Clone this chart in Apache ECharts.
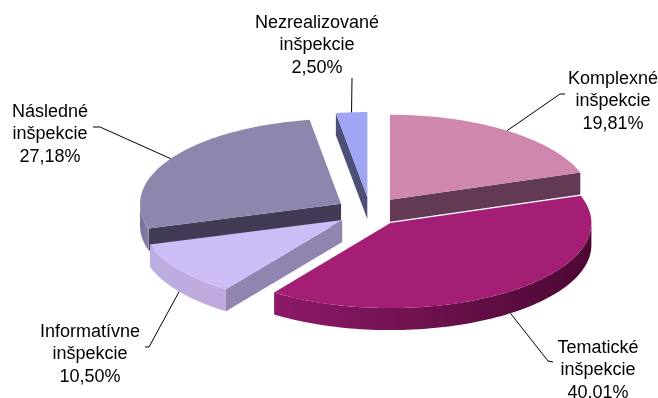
<!DOCTYPE html>
<html><head><meta charset="utf-8">
<style>html,body{margin:0;padding:0;background:#fff}#c{width:658px;height:398px}</style>
<script src="https://cdn.jsdelivr.net/npm/echarts@6/dist/echarts.min.js"></script>
</head><body><div id="c"></div>
<script>
// Data, clockwise from 12 o'clock
const categories = ['Komplexné', 'Tematické', 'Informatívne', 'Následné', 'Nezrealizované'];
const values = [19.81, 40.01, 10.50, 27.18, 2.50];
const percentLabels = ['19,81%', '40.01%', '10,50%', '27,18%', '2,50%'];
const secondLine = 'inšpekcie';
const topColors = ['#d087ae', '#a51e76', '#cdbdf7', '#8f86ae', '#a0a6f5'];
const radialWallColors = ['#623a53', '#5a0f40', '#9184ae', '#433a55', '#4c5079'];
const outerWallLeft = ['#8e5a78', '#8e1a68', '#bdaee2', '#786f98', '#4c5079'];
const outerWallRight = ['#623a53', '#4b0832', '#c0a9dc', '#8a80a6', '#4c5079'];
// Layout
const cx = 370, cy = 211.5, ra = 201, rb = 85, depth = 22, explode = 0.17;
const drawOrder = [4, 0, 3, 1, 2];
const labelCenters = [[613, 79], [598, 348], [90, 332], [50, 112], [317, 23]];
const leaderElbows = [[[565, 94], [560, 94]], [[553, 362], [548, 361]], [[145, 347], [149, 347]], [[93, 127], [100, 127]], [[352, 78]]];
const lineGap = 22.3;

const total = values.reduce((a, b) => a + b, 0);
const rad = d => d * Math.PI / 180;
function arc(c, t1, t2, dy) {
  const pts = [], n = Math.max(2, Math.ceil(Math.abs(t2 - t1) / 1.5));
  for (let i = 0; i <= n; i++) {
    const t = rad(t1 + (t2 - t1) * i / n);
    pts.push([c[0] + ra * Math.sin(t), c[1] - rb * Math.cos(t) + dy]);
  }
  return pts;
}
function renderItem(params, api) {
  const idx = api.value(1), val = api.value(0);
  let before = 0;
  for (let i = 0; i < idx; i++) before += values[i];
  const t1 = before / total * 360, t2 = (before + val) / total * 360, tm = (t1 + t2) / 2;
  const c = [cx + ra * explode * Math.sin(rad(tm)), cy - rb * explode * Math.cos(rad(tm))];
  const children = [];
  const poly = (points, fill) => children.push({ type: 'polygon', shape: { points }, style: { fill, stroke: null }, silent: true });
  const wall = t => {
    const p = arc(c, t, t, 0)[0];
    poly([c, p, [p[0], p[1] + depth], [c[0], c[1] + depth]], radialWallColors[idx]);
  };
  if (Math.sin(rad(t1)) < -1e-6) wall(t1);
  if (Math.sin(rad(t2)) > 1e-6) wall(t2);
  const w1 = Math.max(t1, 90), w2 = Math.min(t2, 270);
  if (w2 > w1) {
    const grad = new echarts.graphic.LinearGradient(0, 0, 1, 0, [
      { offset: 0, color: outerWallLeft[idx] }, { offset: 1, color: outerWallRight[idx] }]);
    poly(arc(c, w1, w2, 0).concat(arc(c, w2, w1, depth)), grad);
  }
  poly([c].concat(arc(c, t1, t2, 0)), topColors[idx]);
  // leader line, from the slice's mid-angle on the visible rim
  const front = Math.cos(rad(tm)) < 0;
  const anchor = arc(c, tm, tm, front ? depth : 0)[0];
  children.push({ type: 'polyline', shape: { points: leaderElbows[idx].concat([anchor]) },
    style: { stroke: '#000', lineWidth: 1, fill: null }, silent: true, z2: 50 });
  const [lx, ly] = labelCenters[idx];
  [categories[idx], secondLine, percentLabels[idx]].forEach((s, k) => children.push({
    type: 'text', silent: true, z2: 60,
    style: { x: lx, y: ly + k * lineGap, text: s, fill: '#000', align: 'center', verticalAlign: 'middle',
      font: '18px "Liberation Sans", Arial, sans-serif' } }));
  return { type: 'group', children };
}
const chart = echarts.init(document.getElementById('c'), null, { renderer: 'canvas' });
chart.setOption({
  backgroundColor: '#ffffff', animation: false,
  series: [{ type: 'custom', coordinateSystem: 'none', renderItem, clip: false,
    encode: {}, data: drawOrder.map(i => ({ name: categories[i], value: [values[i], i] })) }]
});
</script></body></html>
